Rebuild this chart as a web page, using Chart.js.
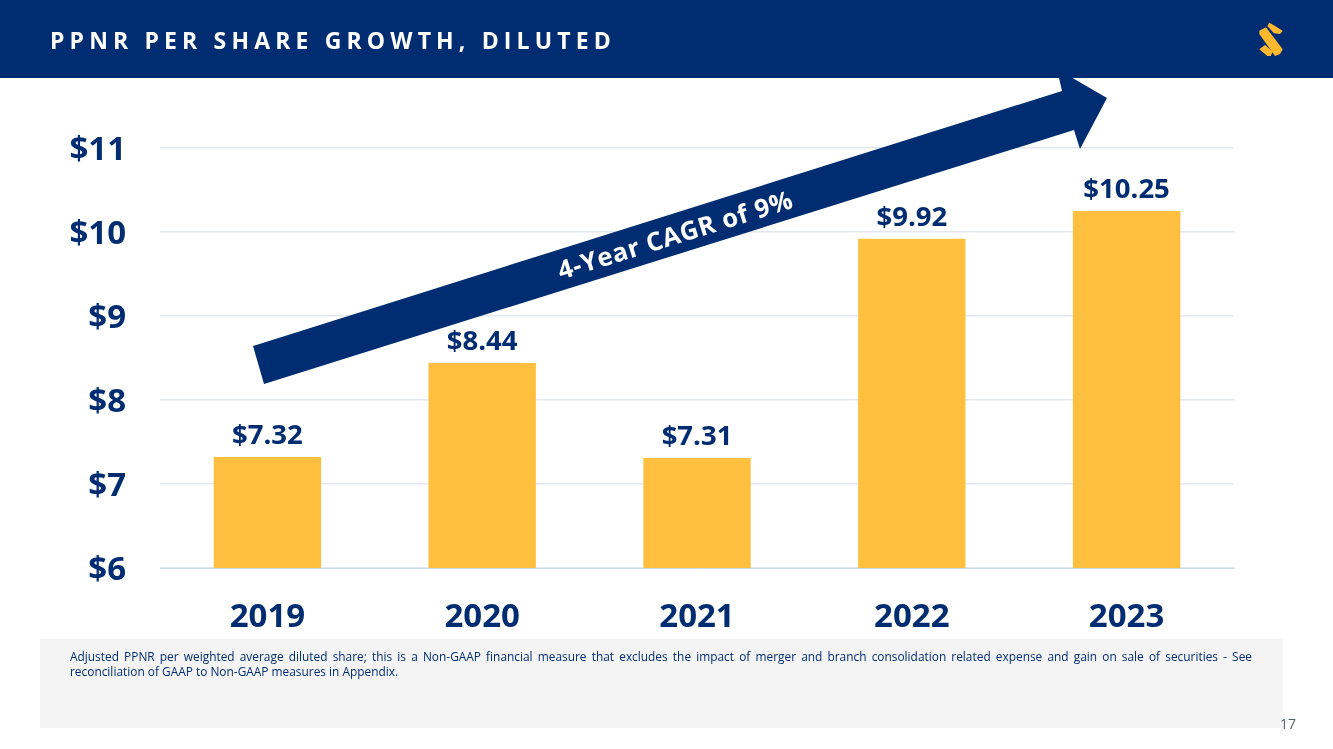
<!DOCTYPE html>
<html><head><meta charset="utf-8">
<script src="https://cdn.jsdelivr.net/npm/chart.js@4"></script>
<style>
html,body{margin:0;padding:0;background:#fff;width:1333px;height:749px;overflow:hidden;font-family:"Open Sans",sans-serif}
#c{position:absolute;left:0;top:0}
#arrow{position:absolute;left:0;top:0}
#hdr{position:absolute;left:0;top:0;width:1333px;height:78px;background:#002d72}
#ttl{position:absolute;left:50px;top:25px;color:#fff;font-weight:700;font-size:23px;line-height:30px;letter-spacing:5.15px;white-space:nowrap}
#logo{position:absolute;left:1255px;top:22px}
#note{position:absolute;left:40px;top:639px;width:1243px;height:89px;background:#f4f4f5}
#note p{position:absolute;left:30px;top:10px;width:1182px;margin:0;font-size:11.9px;line-height:15px;color:#002d72;white-space:normal}
#note span{display:block}
#note span.j{text-align:justify;text-align-last:justify}
#pg{position:absolute;left:1280px;top:715px;font-size:14px;line-height:18px;color:#55606e}
#cagr{position:absolute;left:675px;top:234px;transform:translate(-50%,-50%) rotate(-17.2deg);color:#fff;font-weight:700;font-size:25.5px;line-height:30px;letter-spacing:.7px;white-space:nowrap}
</style></head><body>
<canvas id="c" width="1333" height="749"></canvas>
<svg id="arrow" width="1333" height="749"><polygon fill="#002d72" points="253,346 1062,91 1057,69 1107,98 1080,149 1074,130 264,384"/></svg>
<div id="cagr">4-Year CAGR of 9%</div>
<div id="hdr"><div id="ttl">PPNR PER SHARE GROWTH, DILUTED</div>
<svg id="logo" width="32" height="38" viewBox="0 0 32 38"><g fill="#fdb92e"><polygon points="14.3,0.7 27.7,8.7 25,12 19,11.3 12.3,4"/><polygon points="4.3,8.7 11,5.3 27.7,27.3 25,32 20,34 4.3,12"/><polygon points="4.3,27.3 10,23 17.7,29.7 15.7,34 12.3,34"/></g></svg>
</div>
<div id="note"><p><span class="j">Adjusted PPNR per weighted average diluted share; this is a Non-GAAP financial measure that excludes the impact of merger and branch consolidation related expense and gain on sale of securities - See</span><span>reconciliation of GAAP to Non-GAAP measures in Appendix.</span></p></div>
<div id="pg">17</div>
<script>
const categories=["2019","2020","2021","2022","2023"];
const ppnrValues=[7.32,8.44,7.31,9.92,10.25];
const yTickMin=6,yTickMax=11;
const navy="#002d72";
const valueLabels={id:"valueLabels",afterDatasetsDraw(ch){
  const ctx=ch.ctx,meta=ch.getDatasetMeta(0);
  ctx.save();ctx.font='700 27.5px "Open Sans"';ctx.fillStyle=navy;ctx.textAlign="center";ctx.textBaseline="alphabetic";
  meta.data.forEach((b,i)=>ctx.fillText("$"+ppnrValues[i].toFixed(2),b.x,b.y-13));
  ctx.restore();
}};
new Chart(document.getElementById("c"),{type:"bar",
 data:{labels:categories,datasets:[{data:ppnrValues,backgroundColor:"#ffc040",borderWidth:0,categoryPercentage:1,barPercentage:0.5}]},
 plugins:[valueLabels],
 options:{responsive:false,animation:false,devicePixelRatio:1,
  layout:{padding:{left:0,right:99,top:148,bottom:0}},
  plugins:{legend:{display:false},tooltip:{enabled:false},title:{display:false}},
  scales:{
   x:{afterFit(s){s.height=181},grid:{display:false},border:{color:"#c9dcea",width:1},
      ticks:{color:navy,font:{family:"Open Sans",weight:"700",size:33},padding:22,maxRotation:0}},
   y:{min:yTickMin,max:yTickMax,
      afterFit(s){s.width=160;
        if(!s._shifted){s._shifted=true;const o=s._computeLabelItems;
          s._computeLabelItems=function(a){const r=o.call(this,a);r.forEach(it=>{it.options.translation=[it.options.translation[0],it.options.translation[1]+3]});return r}}},
      grid:{color:"#e3e8ee",lineWidth:1.5,drawTicks:false},border:{display:false},
      ticks:{stepSize:1,color:navy,font:{family:"Open Sans",weight:"700",size:33},padding:34,callback:v=>"$"+v}}
  }}});
</script>
</body></html>
